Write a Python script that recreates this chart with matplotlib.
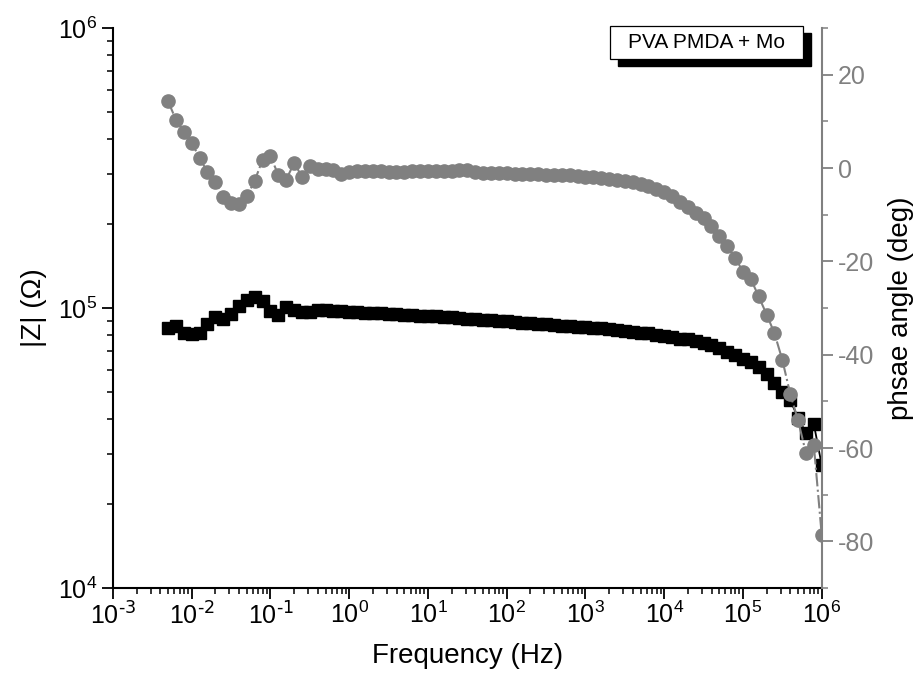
import numpy as np
import matplotlib
matplotlib.use("Agg")
import matplotlib.pyplot as plt
from matplotlib.patches import Rectangle
from matplotlib.ticker import LogLocator, MultipleLocator, FuncFormatter

plt.rcParams['font.family'] = ['Liberation Sans', 'DejaVu Sans']
plt.rcParams['mathtext.default'] = 'regular'
plt.rcParams['axes.unicode_minus'] = False

# frequency (Hz), 10 points per decade
freq = [
    5.01e-3, 6.31e-3, 7.94e-3,
    1.00e-2, 1.26e-2, 1.58e-2, 2.00e-2, 2.51e-2, 3.16e-2, 3.98e-2, 5.01e-2, 6.31e-2, 7.94e-2,
    1.00e-1, 1.26e-1, 1.58e-1, 2.00e-1, 2.51e-1, 3.16e-1, 3.98e-1, 5.01e-1, 6.31e-1, 7.94e-1,
    1.00e0, 1.26e0, 1.58e0, 2.00e0, 2.51e0, 3.16e0, 3.98e0, 5.01e0, 6.31e0, 7.94e0,
    1.00e1, 1.26e1, 1.58e1, 2.00e1, 2.51e1, 3.16e1, 3.98e1, 5.01e1, 6.31e1, 7.94e1,
    1.00e2, 1.26e2, 1.58e2, 2.00e2, 2.51e2, 3.16e2, 3.98e2, 5.01e2, 6.31e2, 7.94e2,
    1.00e3, 1.26e3, 1.58e3, 2.00e3, 2.51e3, 3.16e3, 3.98e3, 5.01e3, 6.31e3, 7.94e3,
    1.00e4, 1.26e4, 1.58e4, 2.00e4, 2.51e4, 3.16e4, 3.98e4, 5.01e4, 6.31e4, 7.94e4,
    1.00e5, 1.26e5, 1.58e5, 2.00e5, 2.51e5, 3.16e5, 3.98e5, 5.01e5, 6.31e5, 7.94e5,
    1.00e6,
]

# |Z| in kOhm
z_kohm = [
    84.6, 86.3, 81.2, 80.6, 81.2, 87.7, 93.1, 91.6, 95.2, 101.7,
    106.8, 109.2, 105.9, 97.6, 94.4, 100.8, 98.0, 96.4, 96.8, 98.0,
    98.0, 97.6, 97.2, 96.8, 96.5, 96.3, 96.0, 95.6, 95.3, 95.0,
    94.7, 94.4, 94.0, 93.6, 93.3, 92.9, 92.5, 92.1, 91.7, 91.3,
    90.9, 90.5, 90.0, 89.6, 89.1, 88.7, 88.2, 87.8, 87.4, 87.0,
    86.6, 86.3, 85.8, 85.4, 84.8, 84.5, 84.0, 83.6, 83.1, 82.4,
    81.7, 81.1, 80.4, 79.4, 78.5, 77.8, 77.2, 76.2, 75.0, 73.5,
    71.9, 69.6, 67.7, 66.0, 64.2, 61.6, 58.1, 54.0, 50.1, 46.9,
    40.5, 35.8, 38.5, 27.5,
]

# phase angle (deg)
phase = [
    14.3, 10.3, 7.8, 5.4, 2.1, -0.8, -3.0, -6.3, -7.5, -7.8,
    -6.1, -2.7, 1.8, 2.5, -1.5, -2.5, 1.1, -1.9, 0.4, -0.15,
    -0.3, -0.4, -1.2, -0.9, -0.6, -0.6, -0.6, -0.6, -0.8, -0.9,
    -0.9, -0.7, -0.7, -0.7, -0.7, -0.7, -0.6, -0.5, -0.4, -0.9,
    -1.1, -1.1, -1.1, -1.16, -1.2, -1.22, -1.3, -1.35, -1.4, -1.5,
    -1.55, -1.6, -1.75, -1.9, -2.0, -2.2, -2.4, -2.6, -2.85, -3.1,
    -3.4, -3.8, -4.4, -5.1, -6.1, -7.2, -8.4, -9.7, -10.7, -12.5,
    -14.5, -16.8, -19.2, -22.2, -23.8, -27.5, -31.4, -35.4, -41.1, -48.4,
    -54.1, -61.1, -59.4, -78.6,
]

f = np.array(freq)
z = np.array(z_kohm) * 1e3
ph = np.array(phase)

grey = '#808080'


def pow10(v, pos):
    e = int(round(np.log10(v)))
    return r'$10^{\mathrm{%s}}$' % (str(e).replace('-', '\u2010'),) if e < 0 else r'$10^{%d}$' % e


fig = plt.figure(figsize=(9.24, 6.9), dpi=100)
ax = fig.add_axes([0.1223, 0.1478, 0.7670, 0.8116])

ax.plot(f, z, color='black', marker='s', markersize=8, linewidth=1.3)
ax.set_xscale('log')
ax.set_yscale('log')
ax.set_xlim(1e-3, 1e6)
ax.set_ylim(1e4, 1e6)
ax.xaxis.set_major_locator(LogLocator(base=10, numticks=20))
ax.xaxis.set_minor_locator(LogLocator(base=10, subs=np.arange(2, 10), numticks=20))
ax.xaxis.set_major_formatter(FuncFormatter(pow10))
ax.yaxis.set_major_formatter(FuncFormatter(pow10))
ax.set_xlabel('Frequency (Hz)', fontsize=20, labelpad=10)
ax.set_ylabel('|Z| (Ω)', fontsize=20, labelpad=8)

ax2 = ax.twinx()
ax2.plot(f, ph, color=grey, marker='o', markersize=9.5, linewidth=1.5, linestyle='-.')
ax2.set_ylim(-90, 30)
ax2.yaxis.set_major_locator(MultipleLocator(20))
ax2.yaxis.set_minor_locator(MultipleLocator(10))
ax2.set_ylabel('phsae angle (deg)', fontsize=20, color='black', labelpad=10)

for a in (ax, ax2):
    a.spines['top'].set_visible(False)
    for s in a.spines.values():
        s.set_linewidth(1.5)
ax.spines['right'].set_visible(False)
ax2.spines['left'].set_visible(False)
ax2.spines['bottom'].set_visible(False)
ax2.spines['right'].set_color(grey)

ax.tick_params(which='major', direction='out', length=8, width=1.3, labelsize=18)
ax.tick_params(axis='x', which='major', pad=2)
ax.tick_params(which='minor', direction='out', length=4.5, width=1.1)
ax2.tick_params(which='major', direction='out', length=8, width=1.3, labelsize=18,
                colors=grey)
ax2.tick_params(which='minor', direction='out', length=4.5, width=1.1, colors=grey)

# label box with drop shadow
ax2.add_patch(Rectangle((0.7125, 0.9316), 0.2723, 0.0595, transform=ax2.transAxes,
                        facecolor='black', edgecolor='black', clip_on=False, zorder=5))
ax2.add_patch(Rectangle((0.7013, 0.9441), 0.2723, 0.0595, transform=ax2.transAxes,
                        facecolor='white', edgecolor='black', linewidth=0.9,
                        clip_on=False, zorder=6))
ax2.text(0.8375, 0.9738, 'PVA PMDA + Mo', transform=ax2.transAxes, fontsize=15,
         ha='center', va='center', zorder=7)

fig.savefig('out.png', dpi=100)
